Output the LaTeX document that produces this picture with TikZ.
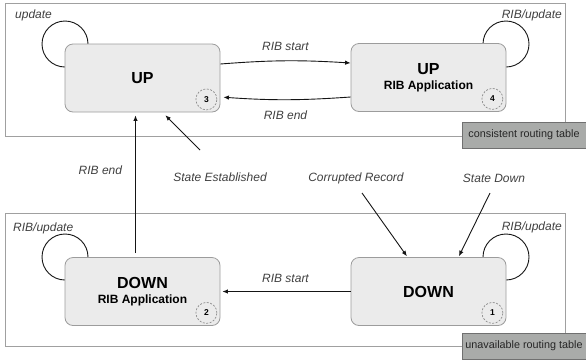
\documentclass[tikz,border=0pt]{standalone}
\usepackage{fontspec}
\setmainfont{Liberation Sans}
\usetikzlibrary{arrows.meta}
\definecolor{nodefill}{HTML}{EBEBEB}
\definecolor{nodeline}{HTML}{9C9C9C}
\definecolor{frameline}{HTML}{A0A0A0}
\definecolor{tagfill}{HTML}{A9ABA9}
\definecolor{tagline}{HTML}{707070}
\definecolor{labtext}{HTML}{404040}
\definecolor{wire}{HTML}{151515}
\tikzset{
  state/.style={draw=nodeline, fill=nodefill, rounded corners=8pt, line width=0.8pt,
    minimum width=155pt, minimum height=68pt, align=center, inner sep=0pt,
    font=\fontsize{16}{18}\selectfont\bfseries},
  frame/.style={draw=frameline, line width=0.9pt},
  tag/.style={draw=tagline, fill=tagfill, line width=0.8pt, inner sep=0pt,
    minimum width=124pt, minimum height=26pt, font=\fontsize{10.8}{12}\selectfont, text=black!85},
  lab/.style={font=\fontsize{12}{14}\selectfont\itshape, text=labtext, inner sep=0pt},
  num/.style={circle, draw=gray!90, dashed, dash pattern=on 2pt off 1.5pt, line width=0.7pt,
    minimum size=21pt, inner sep=0pt, font=\fontsize{8.5}{9}\selectfont\bfseries},
  conn/.style={draw=wire, line width=0.9pt, -{Latex[length=5.5pt,width=4.5pt]}},
  loopline/.style={draw=wire, line width=0.9pt},
}
\begin{document}
\begin{tikzpicture}[x=1pt,y=1pt]
\useasboundingbox (0,0) rectangle (586,-360);
% frames
\draw[frame] (5.5,-3.5) rectangle (565,-136);
\draw[frame] (5.5,-213) rectangle (565,-346);
\node[tag] (tagtop) at (524,-135) {consistent routing table};
\node[tag] (tagbot) at (524,-346) {unavailable routing table};
% loops (drawn before nodes)
\coordinate (upnw) at (65,-44);
\coordinate (uprne) at (506,-44);
\coordinate (drnw) at (65,-257);
\coordinate (dne) at (506,-257);
\draw[loopline] ([xshift=23pt]upnw) arc[start angle=0, end angle=270, radius=23pt];
\draw[loopline] ([xshift=-23pt]uprne) arc[start angle=180, end angle=-90, radius=23pt];
\draw[loopline] ([xshift=23pt]drnw) arc[start angle=0, end angle=270, radius=23pt];
\draw[loopline] ([xshift=-23pt]dne) arc[start angle=180, end angle=-90, radius=23pt];
% states
\node[state] (up) at (142.5,-78) {UP};
\node[state] (uprib) at (428.5,-77.5) {UP\\[-3pt]{\fontsize{12}{14}\selectfont RIB Application}};
\node[state] (downrib) at (142.5,-291.5) {DOWN\\[-3pt]{\fontsize{12}{14}\selectfont RIB Application}};
\node[state] (down) at (428.5,-291.5) {DOWN};
% numbers
\node[num] (n3) at ([xshift=-14pt,yshift=13pt]up.south east) {3};
\node[num] (n4) at ([xshift=-14pt,yshift=13pt]uprib.south east) {4};
\node[num] (n2) at ([xshift=-14pt,yshift=13pt]downrib.south east) {2};
\node[num] (n1) at ([xshift=-14pt,yshift=13pt]down.south east) {1};
% loop labels
\node[lab, anchor=west] (lup) at (15,-15) {update};
\node[lab, anchor=east] (luprib) at (562,-15) {RIB/update};
\node[lab, anchor=west] (ldr) at (13,-228) {RIB/update};
\node[lab, anchor=east] (ld) at (562,-227) {RIB/update};
% transitions
\draw[conn] ([yshift=14pt]up.east) to[bend left=4] node[lab, above=10pt] (ls1) {RIB start} ([yshift=14.5pt]uprib.west);
\draw[conn, shorten >=3pt] ([yshift=-19.5pt]uprib.west) to[bend left=4] node[lab, below=11pt] (le1) {RIB end} ([yshift=-19pt]up.east);
\draw[conn, shorten >=2pt] (down.west) -- node[lab, above=8pt] (ls2) {RIB start} (downrib.east);
\draw[conn, shorten <=4pt, shorten >=3pt] ([xshift=-7pt]downrib.north) -- node[lab, pos=0.6, left=13pt] (le2) {RIB end} ([xshift=-7pt]up.south);
% external triggers
\node[lab] (lse) at (220,-177) {State Established};
\node[lab] (lcr) at (356,-178) {Corrupted Record};
\node[lab] (lsd) at (494,-178) {State Down};
\coordinate (se0) at (200,-150);
\coordinate (cr0) at (362,-193);
\coordinate (sd0) at (490,-193);
\draw[conn, shorten >=4pt] (se0) -- ([xshift=20pt]up.south);
\draw[conn, shorten >=1pt] (cr0) -- ([xshift=-21pt]down.north);
\draw[conn, shorten >=1pt] (sd0) -- ([xshift=30pt]down.north);
\end{tikzpicture}
\end{document}
